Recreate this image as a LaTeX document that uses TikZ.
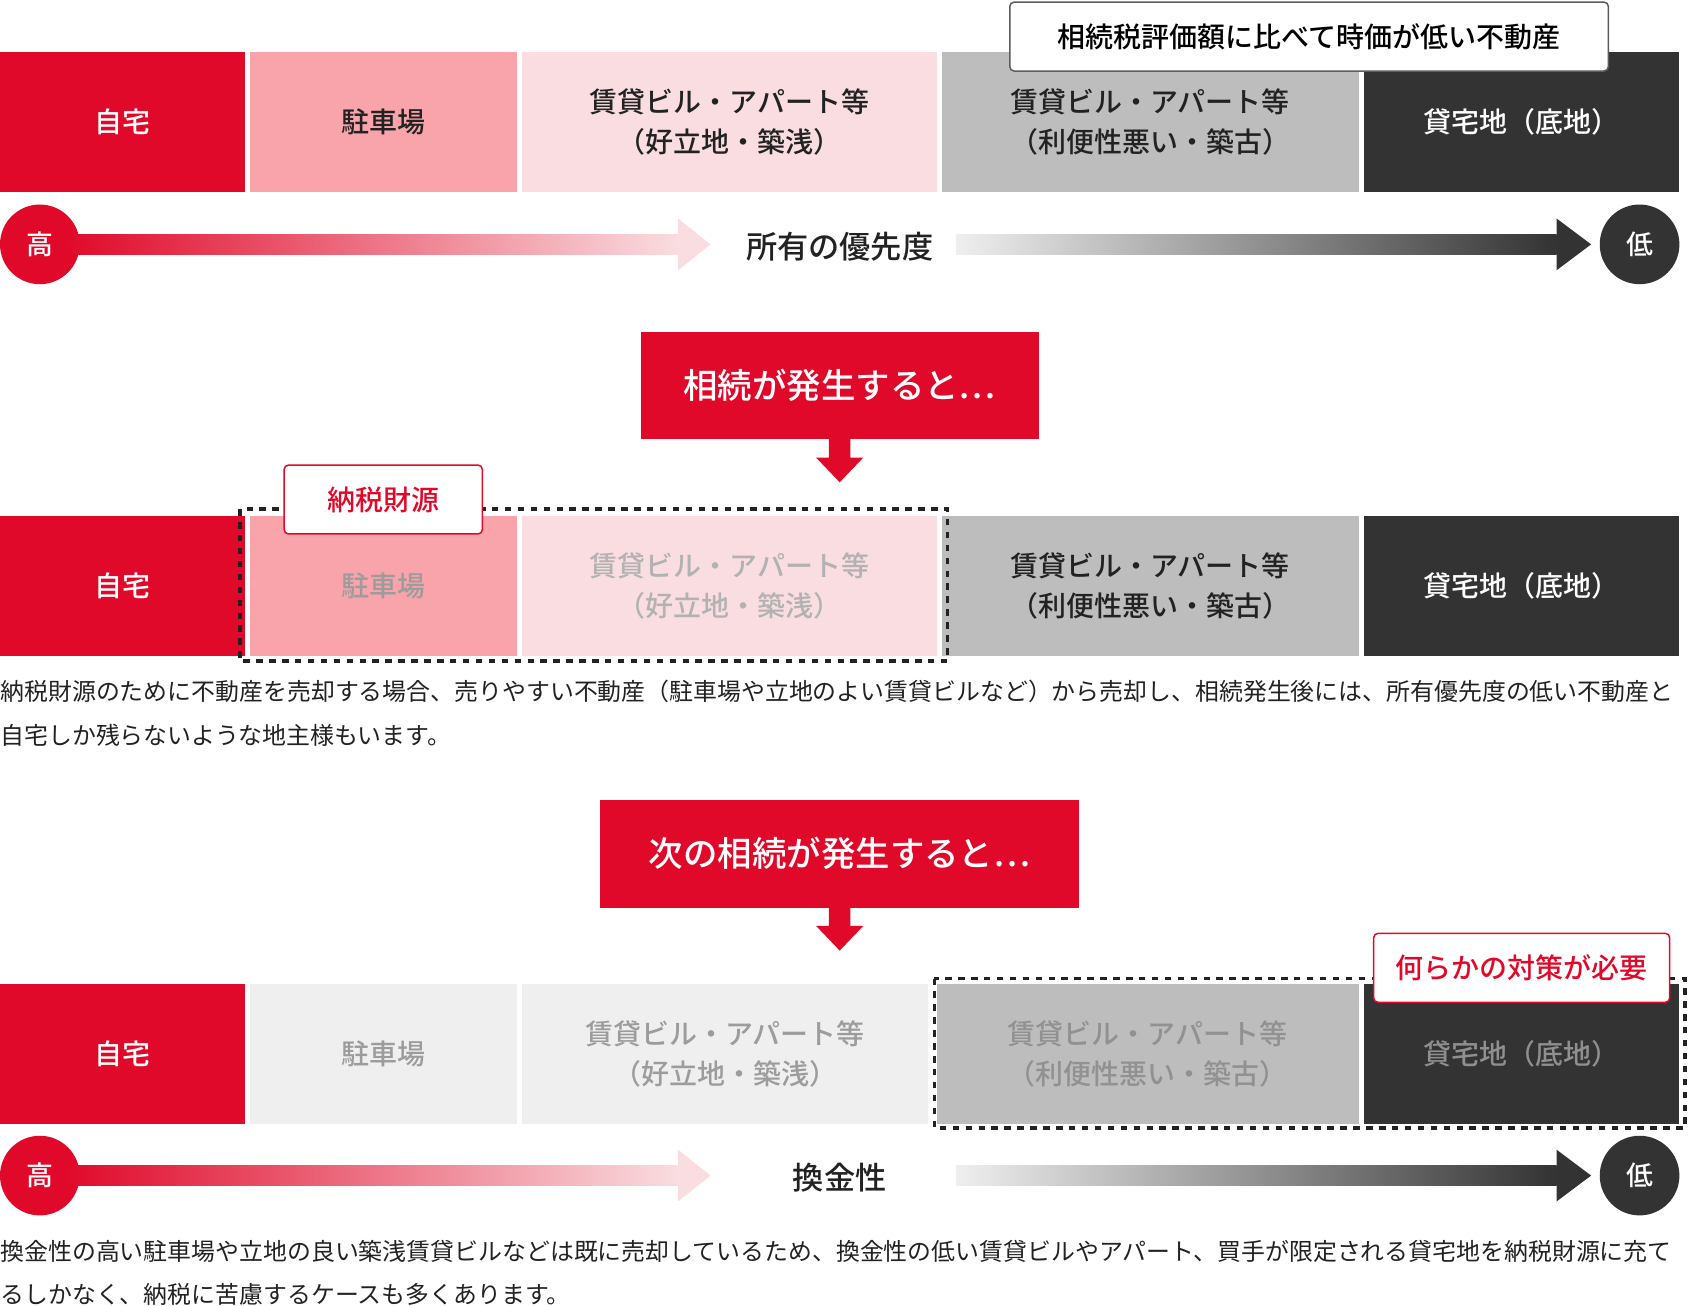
\documentclass[tikz,border=0pt]{standalone}
\usepackage{fontspec}
\setmainfont{Noto Sans CJK JP}[BoldFont={Noto Sans CJK JP Medium}]
\definecolor{jred}{HTML}{E0092A}
\definecolor{jpink}{HTML}{F9A3AB}
\definecolor{jlpink}{HTML}{F9DDE0}
\definecolor{jgray}{HTML}{BDBDBD}
\definecolor{jdark}{HTML}{333333}
\definecolor{jpale}{HTML}{EFEFEF}
\definecolor{jtxt}{HTML}{222222}
\begin{document}
\begin{tikzpicture}[x=0.5pt,y=-0.5pt,
    cell/.style={rectangle, align=center, inner sep=0pt, minimum height=65pt, font=\fontsize{13}{18.5}\selectfont\bfseries},
    callout/.style={rectangle, rounded corners=2pt, align=center, fill=white, draw=#1, line width=0.7pt, minimum height=32pt, font=\fontsize{13}{15}\selectfont\bfseries},
    bigbox/.style={rectangle, fill=jred, text=white, minimum height=50pt, font=\fontsize{16}{19}\selectfont\bfseries},
    dot/.style={circle, minimum size=37pt, inner sep=0pt, text=white, font=\fontsize{12.5}{15}\selectfont\bfseries},
    label/.style={font=\fontsize{14.5}{17}\selectfont\bfseries, text=jtxt},
    body/.style={anchor=west, inner sep=0pt, font=\fontsize{11.1}{13}\selectfont, text=jtxt},
    frame/.style={draw=jtxt, dashed, line width=1.6pt}
]
\useasboundingbox (0,0) rectangle (1568,1213);

% row 1
\node[cell, fill=jred, text=white, minimum width=114pt] (r1a) at (114,113) {自宅};
\node[cell, fill=jpink, text=jtxt, minimum width=124pt] (r1b) at (356,113) {駐車場};
\node[cell, fill=jlpink, text=jtxt, minimum width=192.5pt] (r1c) at (677.5,113) {賃貸ビル・アパート等\\（好立地・築浅）};
\node[cell, fill=jgray, text=jtxt, minimum width=193.5pt] (r1d) at (1068.5,113) {賃貸ビル・アパート等\\（利便性悪い・築古）};
\node[cell, fill=jdark, text=white, minimum width=146.5pt] (r1e) at (1413.5,113) {貸宅地（底地）};
\node[callout=jdark!80, minimum width=278pt] (note1) at (1216,34) {相続税評価額に比べて時価が低い不動産};

% priority arrow
\node[dot, fill=jred] (hi1) at (37,227) {高};
\node[dot, fill=jdark] (lo1) at (1523,227) {低};
\node[label] (prio) at (780,229) {所有の優先度};
\shade[left color=jred, right color=jlpink] (60,218) rectangle (630,236);
\fill[jlpink] (630,203) -- (660,227) -- (630,251) -- cycle;
\shade[left color=jpale, right color=jdark] (888,218) rectangle (1446,236);
\fill[jdark] (1446,203) -- (1478,227) -- (1446,251) -- cycle;

% first event
\node[bigbox, minimum width=185pt] (ev1) at (780,358) {相続が発生すると…};
\fill[jred] (770,408) rectangle (790,426) (758,425) -- (780,448) -- (802,425) -- cycle;

% row 2
\node[cell, fill=jred, text=white, minimum width=114pt] (r2a) at (114,544) {自宅};
\node[cell, fill=jpink, text=jtxt!45, minimum width=124pt] (r2b) at (356,544) {駐車場};
\node[cell, fill=jlpink, text=jtxt!35, minimum width=192.5pt] (r2c) at (677.5,544) {賃貸ビル・アパート等\\（好立地・築浅）};
\node[cell, fill=jgray, text=jtxt, minimum width=193.5pt] (r2d) at (1068.5,544) {賃貸ビル・アパート等\\（利便性悪い・築古）};
\node[cell, fill=jdark, text=white, minimum width=146.5pt] (r2e) at (1413.5,544) {貸宅地（底地）};
\draw[frame] (223,473) rectangle (880,614);
\node[callout=jred, text=jred, minimum width=92pt] (note2) at (356,464) {納税財源};

\node[body] (txt1) at (0,642) {納税財源のために不動産を売却する場合、売りやすい不動産（駐車場や立地のよい賃貸ビルなど）から売却し、相続発生後には、所有優先度の低い不動産と};
\node[body] (txt2) at (0,683) {自宅しか残らないような地主様もいます。};

% second event
\node[bigbox, minimum width=222.5pt] (ev2) at (780,793) {次の相続が発生すると…};
\fill[jred] (770,842) rectangle (790,861) (758,860) -- (780,883) -- (802,860) -- cycle;

% row 3
\node[cell, fill=jred, text=white, minimum width=114pt] (r3a) at (114,979) {自宅};
\node[cell, fill=jpale, text=jtxt!45, minimum width=124pt] (r3b) at (356,979) {駐車場};
\node[cell, fill=jpale, text=jtxt!45, minimum width=188.5pt] (r3c) at (673.5,979) {賃貸ビル・アパート等\\（好立地・築浅）};
\node[cell, fill=jgray, text=jtxt!50, minimum width=196pt] (r3d) at (1066,979) {賃貸ビル・アパート等\\（利便性悪い・築古）};
\node[cell, fill=jdark, text=white!45!jdark, minimum width=146.5pt] (r3e) at (1413.5,979) {貸宅地（底地）};
\draw[frame] (868,909) rectangle (1565,1048);
\node[callout=jred, text=jred, minimum width=137.5pt] (note3) at (1413.5,899) {何らかの対策が必要};

% liquidity arrow
\node[dot, fill=jred] (hi2) at (37,1092) {高};
\node[dot, fill=jdark] (lo2) at (1523,1092) {低};
\node[label] (liq) at (780,1094) {換金性};
\shade[left color=jred, right color=jlpink] (60,1083) rectangle (630,1101);
\fill[jlpink] (630,1068) -- (660,1092) -- (630,1116) -- cycle;
\shade[left color=jpale, right color=jdark] (888,1083) rectangle (1446,1101);
\fill[jdark] (1446,1068) -- (1478,1092) -- (1446,1116) -- cycle;

\node[body] (txt3) at (0,1162) {換金性の高い駐車場や立地の良い築浅賃貸ビルなどは既に売却しているため、換金性の低い賃貸ビルやアパート、買手が限定される貸宅地を納税財源に充て};
\node[body] (txt4) at (0,1202) {るしかなく、納税に苦慮するケースも多くあります。};
\end{tikzpicture}
\end{document}
